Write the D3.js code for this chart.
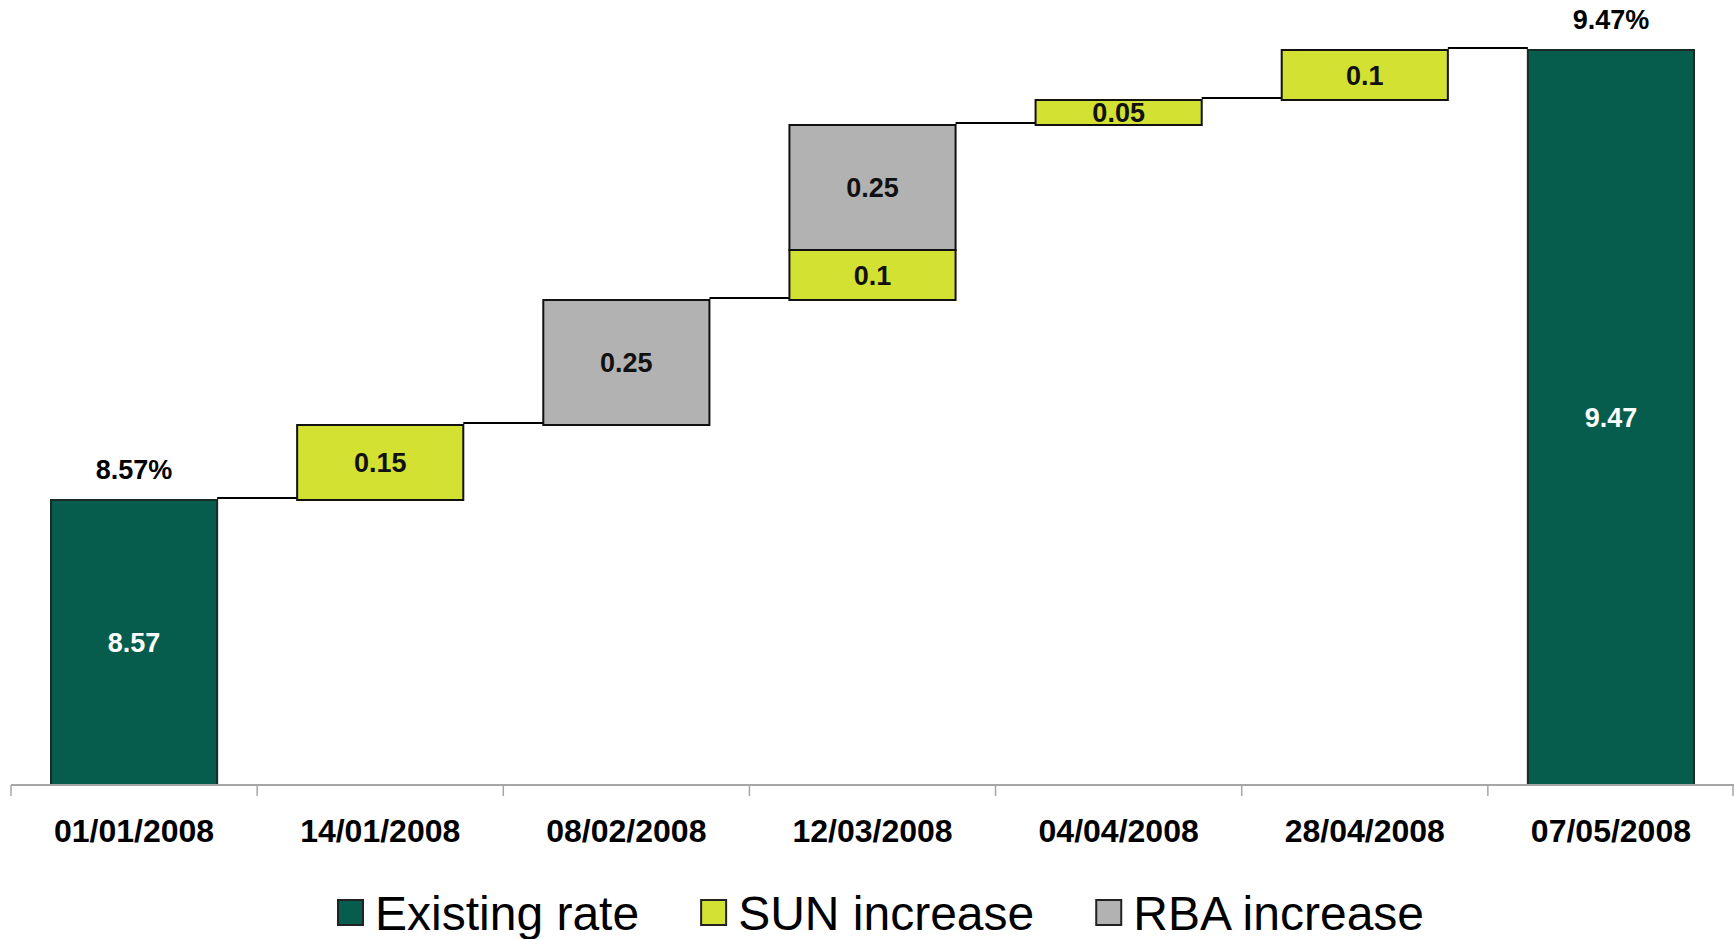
<!DOCTYPE html>
<html>
<head>
<meta charset="utf-8">
<script src="https://cdn.jsdelivr.net/npm/d3@7"></script>
<style>
  html, body { margin: 0; padding: 0; background: #ffffff; }
  svg { display: block; font-family: "Liberation Sans", Arial, sans-serif; }
</style>
</head>
<body>
<svg id="chart" width="1734" height="939"></svg>
<script>
// Mortgage rate build-up, Jan–May 2008
const categories = ["01/01/2008", "14/01/2008", "08/02/2008", "12/03/2008", "04/04/2008", "28/04/2008", "07/05/2008"];
const existingRate = [8.57, 0, 0, 0, 0, 0, 9.47];
const sunIncrease  = [0, 0.15, 0, 0.1, 0.05, 0.1, 0];
const rbaIncrease  = [0, 0, 0.25, 0.25, 0, 0, 0];
const seriesNames  = ["Existing rate", "SUN increase", "RBA increase"];

const colors = { existing: "#065c4d", sun: "#d3e133", rba: "#b2b2b2" };
const fmt = v => String(+v.toFixed(2));

const svg = d3.select("#chart");
const W = 1734;
const axisY = 785;

const x = d3.scaleBand().domain(categories).range([11, W]).padding(0);
const y = d3.scaleLinear().domain([8.0, 9.5]).range([axisY, 35]);
const barW = x.bandwidth() * 0.675;
const barX = c => x(c) + (x.bandwidth() - barW) / 2;

// Build waterfall segments
const segments = [];
const levels = [];   // running total after each category
let running = 0;
categories.forEach((c, i) => {
  if (existingRate[i] > 0) {
    segments.push({ cat: c, kind: "existing", y0: y.domain()[0], y1: existingRate[i], v: existingRate[i] });
    running = existingRate[i];
  } else {
    let start = running;
    if (sunIncrease[i] > 0) {
      segments.push({ cat: c, kind: "sun", y0: start, y1: start + sunIncrease[i], v: sunIncrease[i] });
      start += sunIncrease[i];
    }
    if (rbaIncrease[i] > 0) {
      segments.push({ cat: c, kind: "rba", y0: start, y1: start + rbaIncrease[i], v: rbaIncrease[i] });
      start += rbaIncrease[i];
    }
    running = start;
  }
  levels.push(running);
});

// Connector lines between consecutive columns
const conn = svg.append("g");
categories.slice(0, -1).forEach((c, i) => {
  conn.append("line")
    .attr("x1", barX(c) + barW)
    .attr("x2", barX(categories[i + 1]))
    .attr("y1", y(levels[i]) - 2)
    .attr("y2", y(levels[i]) - 2)
    .attr("stroke", "#000")
    .attr("stroke-width", 2);
});

// Bars
svg.append("g").selectAll("rect").data(segments).join("rect")
  .attr("x", d => barX(d.cat))
  .attr("width", barW)
  .attr("y", d => y(d.y1))
  .attr("height", d => y(d.y0) - y(d.y1))
  .attr("fill", d => colors[d.kind])
  .attr("stroke", d => d.kind === "existing" ? "#1c2a26" : "#111")
  .attr("stroke-width", 2);

// Value labels inside bars
svg.append("g").selectAll("text").data(segments).join("text")
  .attr("x", d => barX(d.cat) + barW / 2)
  .attr("y", d => (y(d.y0) + y(d.y1)) / 2)
  .attr("dy", "0.36em")
  .attr("text-anchor", "middle")
  .attr("font-size", 27)
  .attr("font-weight", "bold")
  .attr("fill", d => d.kind === "existing" ? "#ffffff" : "#111111")
  .text(d => fmt(d.v));

// Percentage totals above the existing-rate columns
svg.append("g").selectAll("text").data(segments.filter(d => d.kind === "existing")).join("text")
  .attr("x", d => barX(d.cat) + barW / 2)
  .attr("y", d => y(d.y1) - 21)
  .attr("text-anchor", "middle")
  .attr("font-size", 27)
  .attr("font-weight", "bold")
  .attr("fill", "#000")
  .text(d => fmt(d.v) + "%");

// Category axis
const axis = svg.append("g").attr("transform", `translate(0,${axisY})`);
axis.call(d3.axisBottom(x).tickSize(0).tickPadding(34))
  .call(g => g.select(".domain").remove())
  .call(g => g.selectAll("text")
    .attr("font-family", "Liberation Sans, Arial, sans-serif")
    .attr("font-size", 32)
    .attr("font-weight", "bold")
    .attr("fill", "#000"));
axis.append("line")
  .attr("x1", x.range()[0]).attr("x2", x.range()[1])
  .attr("stroke", "#a6a6a6").attr("stroke-width", 2);
const bounds = categories.map(c => x(c)).concat([x.range()[1] - 1]);
axis.selectAll("line.sep").data(bounds).join("line")
  .attr("class", "sep")
  .attr("x1", d => d).attr("x2", d => d)
  .attr("y1", 0).attr("y2", 11)
  .attr("stroke", "#a6a6a6").attr("stroke-width", 1.5);

// Legend
const legend = svg.append("g").attr("transform", "translate(338,913)");
const legendColors = [colors.existing, colors.sun, colors.rba];
let lx = 0;
seriesNames.forEach((name, i) => {
  const g = legend.append("g").attr("transform", `translate(${lx},0)`);
  g.append("rect")
    .attr("x", 0).attr("y", -13).attr("width", 25).attr("height", 25)
    .attr("fill", legendColors[i]).attr("stroke", "#222").attr("stroke-width", 2);
  const t = g.append("text")
    .attr("x", 37).attr("y", 17)
    .attr("font-size", 48)
    .attr("fill", "#000")
    .text(name);
  lx += 37 + t.node().getComputedTextLength() + 62;
});
</script>
</body>
</html>
